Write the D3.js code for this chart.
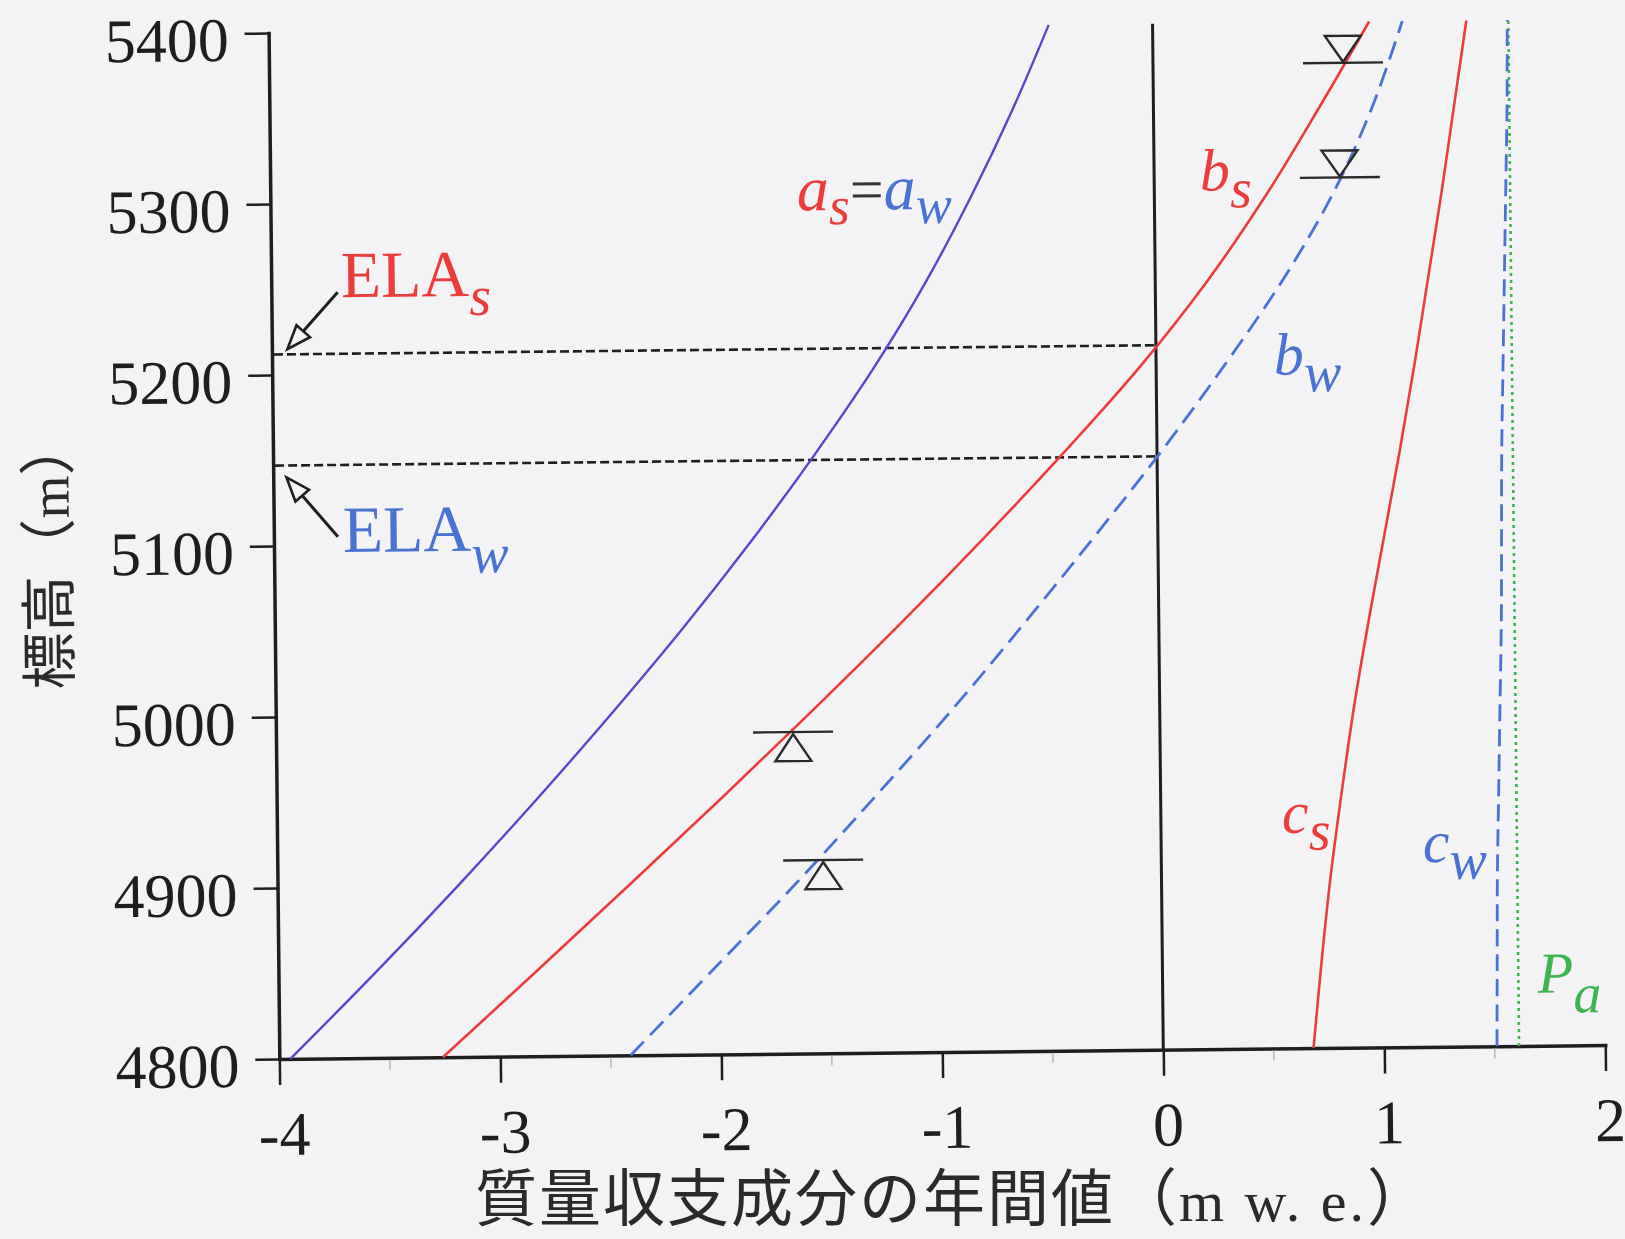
<!DOCTYPE html>
<html>
<head>
<meta charset="utf-8">
<script src="https://cdn.jsdelivr.net/npm/d3@7"></script>
<style>
  html, body { margin: 0; padding: 0; background: #f3f2f4; }
  svg { display: block; }
</style>
</head>
<body>
<svg id="chart" width="1625" height="1239"></svg>
<script>
// Elevation grid (m) shared by the mass-balance component profiles
const elevations = [4800, 4850, 4900, 4950, 5000, 5050, 5100, 5150, 5200, 5250, 5300, 5350, 5400];
// Annual ablation, identical for both scenarios (a_s = a_w), m w.e.
const ablation      = [-3.95, -3.56, -3.185, -2.825, -2.48, -2.15, -1.84, -1.55, -1.28, -1.04, -0.83, -0.64, -0.47];
// Net balance, summer-accumulation type (b_s)
const balanceSummer = [-3.26, -2.83, -2.405, -1.985, -1.575, -1.175, -0.79, -0.42, -0.07, 0.24, 0.51, 0.75, 0.98];
// Net balance, winter-accumulation type (b_w)
const balanceWinter = [-2.41, -2.03, -1.65, -1.29, -0.94, -0.61, -0.29, 0.02, 0.31, 0.58, 0.81, 0.99, 1.13];
// Accumulation, summer type (c_s)
const accumSummer   = [0.68, 0.72, 0.765, 0.82, 0.88, 0.95, 1.025, 1.10, 1.17, 1.235, 1.30, 1.36, 1.42];
// Accumulation, winter type (c_w)
const accumWinter   = [1.51, 1.515, 1.52, 1.53, 1.54, 1.55, 1.555, 1.56, 1.57, 1.58, 1.59, 1.60, 1.605];
// Annual precipitation (P_a), constant with elevation
const precipElev    = [4800, 5400];
const precipValue   = [1.61, 1.61];

// Equilibrium-line altitudes (m)
const elaSummer = 5212;
const elaWinter = 5147;

// Observed balance markers (stake readings)
const markerElev  = [5376, 5309, 4988, 4913];
const markerValue = [0.86, 0.84, -1.66, -1.53];
const markerKind  = ["down", "down", "up", "up"];

// Axis ticks
const xTicks = [-4, -3, -2, -1, 0, 1, 2];
const xMinorTicks = [-3.5, -2.5, -1.5, -0.5, 0.5, 1.5];
const yTicks = [4800, 4900, 5000, 5100, 5200, 5300, 5400];

const W = 1625, H = 1239;
const BG = "#f3f2f4";
const RED = "#ec3d3d";
const BLUE = "#4a72d2";
const PURPLE = "#5647cf";
const GREEN = "#3db44e";
const INK = "#1e1e1e";
const SERIF = "'Liberation Serif', 'DejaVu Serif', serif";
const CJK = "'Noto Sans CJK JP', 'Noto Sans CJK SC', sans-serif";

const svg = d3.select("#chart");
svg.append("rect").attr("width", W).attr("height", H).attr("fill", BG);

// the printed figure sits very slightly rotated on the page
const g = svg.append("g").attr("transform", "rotate(-0.6 942 546)");

const x = d3.scaleLinear().domain([-4, 2]).range([274, 1600]);
const y = d3.scaleLinear().domain([4800, 5400]).range([1052, 26]);

// ---- axes ----
const xAxis = d3.axisBottom(x).tickValues(xTicks).tickSize(26).tickSizeOuter(0)
  .tickFormat(d => String(d));
const gx = g.append("g").attr("transform", `translate(0,${y(4800)})`).call(xAxis);
gx.select(".domain").attr("stroke", INK).attr("stroke-width", 3.5).attr("stroke-linecap", "square");
gx.selectAll(".tick line").attr("stroke", INK).attr("stroke-width", 2.5);
gx.selectAll(".tick text")
  .attr("y", 96).attr("dy", 0).attr("dx", 4)
  .attr("fill", INK).attr("font-family", SERIF).attr("font-size", 62);

// faint half-unit ticks
g.append("g").selectAll("line").data(xMinorTicks).join("line")
  .attr("x1", d => x(d)).attr("x2", d => x(d))
  .attr("y1", y(4800) + 2).attr("y2", y(4800) + 12)
  .attr("stroke", "#b8b6ba").attr("stroke-width", 1.5);

const yAxis = d3.axisLeft(y).tickValues(yTicks).tickSize(24).tickSizeOuter(0)
  .tickFormat(d => String(d));
const gy = g.append("g").attr("transform", `translate(${x(-4)},0)`).call(yAxis);
gy.select(".domain").attr("stroke", INK).attr("stroke-width", 3.5).attr("stroke-linecap", "square");
gy.selectAll(".tick line").attr("stroke", INK).attr("stroke-width", 2.5);
gy.selectAll(".tick text")
  .attr("x", -40).attr("y", 6).attr("dy", "0.34em")
  .attr("fill", INK).attr("font-family", SERIF).attr("font-size", 62);

// zero line
g.append("line")
  .attr("x1", x(0)).attr("x2", x(0)).attr("y1", y(4800)).attr("y2", y(5400))
  .attr("stroke", INK).attr("stroke-width", 3);

// ---- ELA guide lines ----
[elaSummer, elaWinter].forEach(e => {
  g.append("line")
    .attr("x1", x(-4) + 2).attr("x2", x(0))
    .attr("y1", y(e)).attr("y2", y(e))
    .attr("stroke", INK).attr("stroke-width", 2.6)
    .attr("stroke-dasharray", "9,4");
});

// ---- profiles ----
const line = d3.line().curve(d3.curveCatmullRom.alpha(0.5));
function profile(values, elev, color, dash, width) {
  const pts = elev.map((e, i) => [x(values[i]), y(e)]);
  g.append("path")
    .attr("d", line(pts))
    .attr("fill", "none")
    .attr("stroke", color)
    .attr("stroke-width", width)
    .attr("stroke-dasharray", dash);
}
profile(precipValue, precipElev, GREEN, "3,4", 2.6);
profile(accumWinter, elevations, BLUE, "17,8", 2.8);
profile(accumSummer, elevations, RED, null, 2.6);
profile(ablation, elevations, PURPLE, null, 2.4);
profile(balanceSummer, elevations, RED, null, 2.6);
profile(balanceWinter, elevations, BLUE, "19,9", 2.8);

// ---- stake markers ----
const mk = g.append("g").attr("fill", "none").attr("stroke", "#2a2a2a").attr("stroke-width", 2.4);
markerElev.forEach((e, i) => {
  const cx = x(markerValue[i]), cy = y(e);
  mk.append("line").attr("x1", cx - 40).attr("x2", cx + 40).attr("y1", cy).attr("y2", cy);
  const h = 27, hw = 18;
  const pts = markerKind[i] === "down"
    ? [[cx - hw, cy - h], [cx + hw, cy - h], [cx, cy - 1]]
    : [[cx, cy + 2], [cx - hw, cy + h + 2], [cx + hw, cy + h + 2]];
  mk.append("polygon").attr("points", pts.map(p => p.join(",")).join(" "));
});

// ---- ELA arrows ----
function arrow(tail, tip) {
  const t0 = [x(tail[0]), y(tail[1])], t1 = [x(tip[0]), y(tip[1])];
  const dx = t1[0] - t0[0], dy = t1[1] - t0[1];
  const len = Math.hypot(dx, dy), ux = dx / len, uy = dy / len;
  const hl = 24, hw = 9;
  const base = [t1[0] - ux * hl, t1[1] - uy * hl];
  g.append("line")
    .attr("x1", t0[0]).attr("y1", t0[1]).attr("x2", base[0]).attr("y2", base[1])
    .attr("stroke", INK).attr("stroke-width", 3);
  const p1 = [base[0] - uy * hw, base[1] + ux * hw];
  const p2 = [base[0] + uy * hw, base[1] - ux * hw];
  g.append("polygon")
    .attr("points", [t1, p1, p2].map(p => p.join(",")).join(" "))
    .attr("fill", BG).attr("stroke", INK).attr("stroke-width", 2.6)
    .attr("stroke-linejoin", "miter");
}
arrow([-3.70, elaSummer + 36], [-3.93, elaSummer + 3]);
arrow([-3.71, elaWinter - 42], [-3.94, elaWinter - 7]);

// ---- labels ----
function label(px, py, parts) {
  const t = g.append("text")
    .attr("x", x(px)).attr("y", y(py))
    .attr("font-family", SERIF);
  parts.forEach(p => {
    t.append("tspan")
      .attr("fill", p.color)
      .attr("font-size", p.size)
      .attr("font-style", p.italic ? "italic" : "normal")
      .attr("dy", p.dy || 0)
      .text(p.text);
  });
}
label(-3.685, 5245, [
  { text: "ELA", color: RED, size: 66 },
  { text: "s", color: RED, size: 56, italic: true, dy: 19 }
]);
label(-3.688, 5096, [
  { text: "ELA", color: BLUE, size: 66 },
  { text: "w", color: BLUE, size: 56, italic: true, dy: 22 }
]);
label(-1.618, 5293, [
  { text: "a", color: RED, size: 64, italic: true },
  { text: "s", color: RED, size: 54, italic: true, dy: 14 },
  { text: "=", color: "#333", size: 60, dy: -14 },
  { text: "a", color: BLUE, size: 64, italic: true },
  { text: "w", color: BLUE, size: 54, italic: true, dy: 14 }
]);
label(0.207, 5302, [
  { text: "b", color: RED, size: 60, italic: true },
  { text: "s", color: RED, size: 56, italic: true, dy: 17 }
]);
label(0.533, 5194, [
  { text: "b", color: BLUE, size: 60, italic: true },
  { text: "w", color: BLUE, size: 56, italic: true, dy: 17 }
]);
label(0.548, 4926, [
  { text: "c", color: RED, size: 60, italic: true },
  { text: "s", color: RED, size: 56, italic: true, dy: 17 }
]);
label(1.184, 4908, [
  { text: "c", color: BLUE, size: 60, italic: true },
  { text: "w", color: BLUE, size: 56, italic: true, dy: 17 }
]);
label(1.698, 4831, [
  { text: "P", color: GREEN, size: 58, italic: true },
  { text: "a", color: GREEN, size: 56, italic: true, dy: 20 }
]);

// ---- axis titles ----
const xt = svg.append("text")
  .attr("x", 952).attr("y", 1221)
  .attr("text-anchor", "middle")
  .attr("font-family", CJK).attr("font-size", 62).attr("fill", "#2a2a2a");
xt.append("tspan").attr("letter-spacing", 2).text("質量収支成分の年間値（");
xt.append("tspan").attr("font-family", SERIF).attr("font-size", 58)
  .attr("letter-spacing", 3).text("m w. e.");
xt.append("tspan").text("）");

const yt = g.append("text")
  .attr("transform", "translate(69,680) rotate(-90)")
  .attr("text-anchor", "start")
  .attr("font-family", CJK).attr("font-size", 57).attr("fill", "#2a2a2a");
yt.append("tspan").text("標高（");
yt.append("tspan").attr("font-family", SERIF).attr("font-size", 55).text("m");
yt.append("tspan").text("）");
</script>
</body>
</html>
